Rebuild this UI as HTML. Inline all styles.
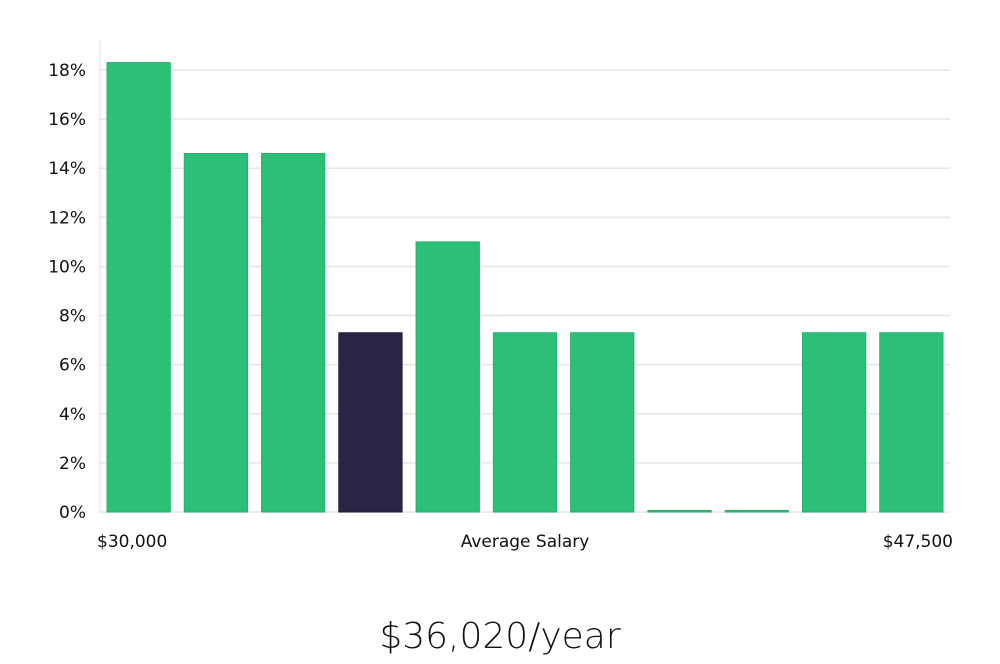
<!DOCTYPE html>
<html><head><meta charset="utf-8"><style>
body{margin:0;background:#fff;width:1000px;height:660px;overflow:hidden;font-family:"DejaVu Sans","Liberation Sans",sans-serif}
svg text{font-family:"DejaVu Sans","Liberation Sans",sans-serif}
</style></head><body>
<svg id="chart" width="1000" height="660" xmlns="http://www.w3.org/2000/svg">
<g id="grid"></g><g id="bars"></g><g id="ylabels"></g>
<line x1="100" y1="40" x2="100" y2="512" stroke="#e0e0e0" stroke-width="1"/>
<text x="97" y="547" font-size="17" fill="#111">$30,000</text>
<text x="525" y="547" font-size="17" fill="#111" text-anchor="middle">Average Salary</text>
<text x="953" y="547" font-size="17" fill="#111" text-anchor="end">$47,500</text>
<text x="500" y="648" font-size="36" fill="#111" text-anchor="middle" font-family="Liberation Sans, sans-serif" style="font-weight:300">$36,020/year</text>
</svg>
<script>
const values=[18.3,14.6,14.6,7.3,11.0,7.3,7.3,0,0,7.3,7.3];
const highlightIndex=3;
const yTicks=[0,2,4,6,8,10,12,14,16,18];
const x0=100,x1=950,yBase=512,yTop18=70;
const band=(x1-x0)/values.length;
function y(v){return yBase-(yBase-yTop18)*v/18;}
function bx(i){return x0+band*i+7;}
const ns="http://www.w3.org/2000/svg";
const grid=document.getElementById('grid'),bars=document.getElementById('bars'),yl=document.getElementById('ylabels');
yTicks.forEach(t=>{
 const l=document.createElementNS(ns,'line');
 
 
 l.setAttribute('x1',x0);l.setAttribute('x2',x1);l.setAttribute('y1',y(t));l.setAttribute('y2',y(t));
 l.setAttribute('stroke','#e6e6e6');l.setAttribute('stroke-width','1.5');grid.appendChild(l);
 const tx=document.createElementNS(ns,'text');
 
 
 tx.setAttribute('x',86);tx.setAttribute('y',y(t)+6);tx.setAttribute('text-anchor','end');
 tx.setAttribute('font-size','17');tx.setAttribute('fill','#111');tx.textContent=t+'%';yl.appendChild(tx);
});
values.forEach((v,i)=>{
 const r=document.createElementNS(ns,'rect');
 
 
 const h=Math.max(y(0)-y(v),1.5);
 r.setAttribute('x',bx(i));r.setAttribute('width',band-14);
 r.setAttribute('y',y(0)-h);r.setAttribute('height',h);
 r.setAttribute('fill',i===highlightIndex?'#2a2545':'#2bbf77');
 r.setAttribute('stroke',i===highlightIndex?'#1e1a38':'#25b06c');r.setAttribute('stroke-width','1');
 bars.appendChild(r);
});
</script>
</body></html>
